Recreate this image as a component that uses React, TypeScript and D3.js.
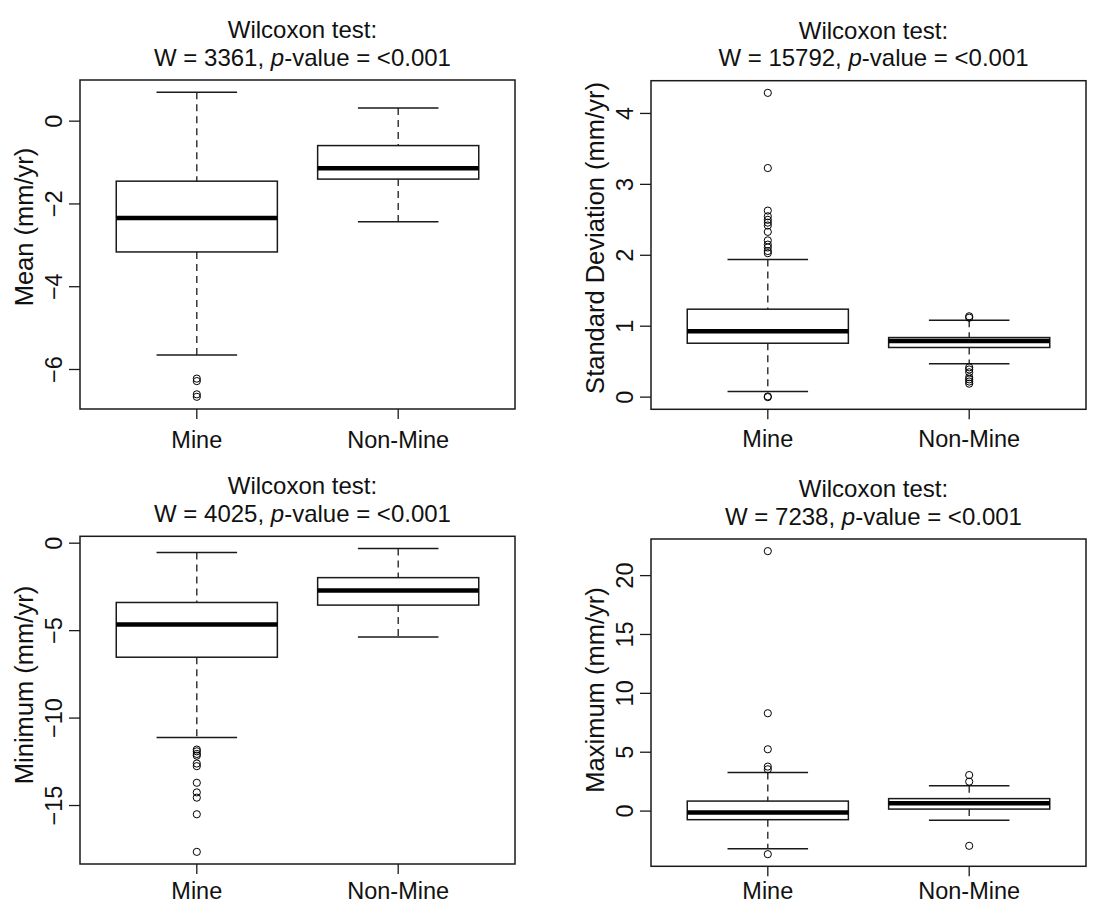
import React from "react";
import * as d3 from "d3";

// ---------- data ----------
const categories = ["Mine", "Non-Mine"];

// [lower whisker, Q1, median, Q3, upper whisker] per category
const meanStats = [
  [-5.65, -3.16, -2.34, -1.45, 0.7],
  [-2.43, -1.4, -1.14, -0.59, 0.32],
];
const meanOutliers = [[-6.22, -6.28, -6.6, -6.66], []];
const meanTicks = [0, -2, -4, -6];

const sdStats = [
  [0.08, 0.76, 0.93, 1.24, 1.94],
  [0.47, 0.7, 0.79, 0.84, 1.085],
];
const sdOutliers = [
  [4.29, 3.23, 2.63, 2.55, 2.5, 2.46, 2.42, 2.33, 2.21, 2.15, 2.11, 2.06, 2.03, 0.0, 0.01],
  [1.14, 1.12, 0.42, 0.39, 0.35, 0.28, 0.25, 0.22, 0.19],
];
const sdTicks = [0, 1, 2, 3, 4];

const minStats = [
  [-11.11, -6.52, -4.65, -3.39, -0.53],
  [-5.37, -3.54, -2.7, -1.97, -0.3],
];
const minOutliers = [
  [-11.8, -11.9, -12.05, -12.15, -12.6, -12.75, -13.7, -14.25, -14.55, -15.5, -17.65],
  [],
];
const minTicks = [0, -5, -10, -15];

const maxStats = [
  [-3.2, -0.73, -0.11, 0.85, 3.27],
  [-0.77, 0.17, 0.66, 1.06, 2.16],
];
const maxOutliers = [
  [22.08, 8.31, 5.25, 3.78, 3.55, -3.66],
  [3.06, 2.5, -2.95],
];
const maxTicks = [0, 5, 10, 15, 20];

const wValues = ["3361", "15792", "4025", "7238"];
const yLabels = ["Mean (mm/yr)", "Standard Deviation (mm/yr)", "Minimum (mm/yr)", "Maximum (mm/yr)"];

// ---------- layout ----------
const FONT = "'Liberation Sans', Arial, Helvetica, sans-serif";

type PanelProps = {
  stats: number[][];
  outliers: number[][];
  ticks: number[];
  w: string;
  ylab: string;
  left: number;
  right: number;
  top: number;
  bottom: number;
  ylabY: number;
  xlabOffset: number;
};

const fmt = (v: number) => (v < 0 ? "\u2212" + Math.abs(v) : String(v));

function Panel(p: PanelProps) {
  const all: number[] = [];
  p.stats.forEach((s) => all.push(...s));
  p.outliers.forEach((o) => all.push(...o));
  const lo = d3.min(all)!;
  const hi = d3.max(all)!;
  const ext = (hi - lo) * 0.04;
  const y = d3.scaleLinear().domain([lo - ext, hi + ext]).range([p.bottom, p.top]);
  const xr = 0.04 * 2;
  const x = d3.scaleLinear().domain([0.5 - xr, 2.5 + xr]).range([p.left, p.right]);
  const bw = x(1.4) - x(1);
  const cw = x(1.2) - x(1);
  const cx = (p.left + p.right) / 2 + 5;
  const stroke = "#1a1a1a";
  return (
    <g>
      {/* title */}
      <text x={cx} y={p.top - 42} textAnchor="middle" fontSize={24} fontFamily={FONT} fill="#111">
        Wilcoxon test:
      </text>
      <text x={cx} y={p.top - 14.5} textAnchor="middle" fontSize={24} fontFamily={FONT} fill="#111">
        {`W = ${p.w}, `}
        <tspan fontStyle="italic">p</tspan>
        {"-value = <0.001"}
      </text>
      {/* boxes */}
      {p.stats.map((s, i) => {
        const xc = x(i + 1);
        return (
          <g key={i}>
            <line x1={xc} x2={xc} y1={y(s[4])} y2={y(s[3])} stroke={stroke} strokeWidth={1.3} strokeDasharray="7,5" />
            <line x1={xc} x2={xc} y1={y(s[1])} y2={y(s[0])} stroke={stroke} strokeWidth={1.3} strokeDasharray="7,5" />
            <line x1={xc - cw} x2={xc + cw} y1={y(s[4])} y2={y(s[4])} stroke={stroke} strokeWidth={1.5} />
            <line x1={xc - cw} x2={xc + cw} y1={y(s[0])} y2={y(s[0])} stroke={stroke} strokeWidth={1.5} />
            <rect
              x={xc - bw}
              y={y(s[3])}
              width={2 * bw}
              height={y(s[1]) - y(s[3])}
              fill="white"
              stroke={stroke}
              strokeWidth={1.5}
            />
            <line x1={xc - bw} x2={xc + bw} y1={y(s[2])} y2={y(s[2])} stroke="#000" strokeWidth={4.5} />
            {p.outliers[i].map((o, j) => (
              <circle key={j} cx={xc} cy={y(o)} r={3.6} fill="none" stroke="#000" strokeWidth={1} />
            ))}
          </g>
        );
      })}
      {/* frame */}
      <rect
        x={p.left}
        y={p.top}
        width={p.right - p.left}
        height={p.bottom - p.top}
        fill="none"
        stroke={stroke}
        strokeWidth={1.5}
      />
      {/* y axis */}
      {p.ticks.map((t) => (
        <g key={t}>
          <line x1={p.left - 11} x2={p.left} y1={y(t)} y2={y(t)} stroke={stroke} strokeWidth={1.3} />
          <text
            transform={`translate(${p.left - 18},${y(t)}) rotate(-90)`}
            textAnchor="middle"
            fontSize={23.5}
            fontFamily={FONT}
            fill="#111"
          >
            {fmt(t)}
          </text>
        </g>
      ))}
      <text
        transform={`translate(${p.left - 47},${p.ylabY}) rotate(-90)`}
        textAnchor="middle"
        fontSize={25.5}
        fontFamily={FONT}
        fill="#111"
      >
        {p.ylab}
      </text>
      {/* x axis */}
      {categories.map((c, i) => (
        <g key={c}>
          <line x1={x(i + 1)} x2={x(i + 1)} y1={p.bottom} y2={p.bottom + 10} stroke={stroke} strokeWidth={1.3} />
          <text x={x(i + 1)} y={p.bottom + p.xlabOffset} textAnchor="middle" fontSize={23.5} fontFamily={FONT} fill="#111">
            {c}
          </text>
        </g>
      ))}
    </g>
  );
}

export default function App() {
  return (
    <svg
      width={1102}
      height={907}
      style={{ position: "absolute", left: 0, top: 0, background: "white" }}
    >
      <rect x={0} y={0} width={1102} height={907} fill="white" />
      <Panel stats={meanStats} outliers={meanOutliers} ticks={meanTicks} w={wValues[0]} ylab={yLabels[0]}
        left={80} right={515} top={80} bottom={409} ylabY={227} xlabOffset={38.5} />
      <Panel stats={sdStats} outliers={sdOutliers} ticks={sdTicks} w={wValues[1]} ylab={yLabels[1]}
        left={651} right={1086} top={80.7} bottom={409.3} ylabY={238} xlabOffset={38} />
      <Panel stats={minStats} outliers={minOutliers} ticks={minTicks} w={wValues[2]} ylab={yLabels[2]}
        left={80} right={515} top={536.3} bottom={864} ylabY={685} xlabOffset={35} />
      <Panel stats={maxStats} outliers={maxOutliers} ticks={maxTicks} w={wValues[3]} ylab={yLabels[3]}
        left={651} right={1086} top={539} bottom={866.3} ylabY={690} xlabOffset={33} />
    </svg>
  );
}
